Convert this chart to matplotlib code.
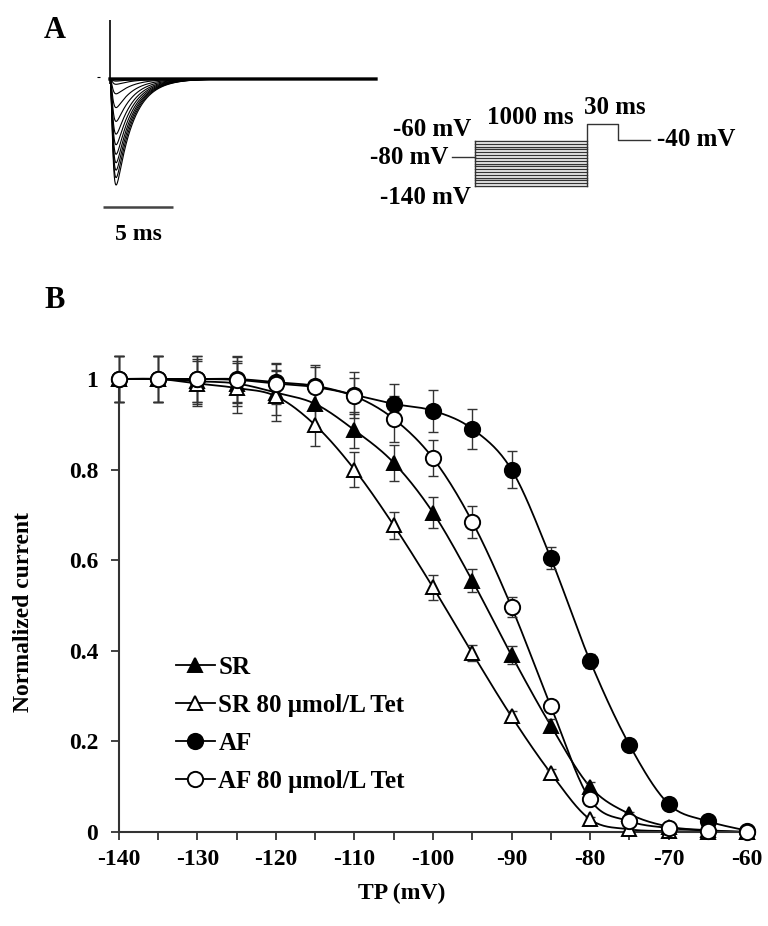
import numpy as np
import matplotlib
matplotlib.use("Agg")
import matplotlib.pyplot as plt

# panel B data: conditioning potential (mV) vs normalized current
tp = [-140, -135, -130, -125, -120, -115, -110, -105, -100, -95, -90, -85, -80, -75, -70, -65, -60]

sr = [1.0, 1.0, 0.995, 0.99, 0.97, 0.945, 0.887, 0.815, 0.705, 0.555, 0.39, 0.235, 0.10, 0.04, 0.012, 0.004, 0.0]
sr_tet = [1.0, 1.0, 0.99, 0.98, 0.962, 0.898, 0.80, 0.677, 0.54, 0.395, 0.255, 0.13, 0.028, 0.006, 0.002, 0.0, 0.0]
af = [1.0, 1.0, 1.0, 1.0, 0.993, 0.985, 0.965, 0.945, 0.93, 0.89, 0.80, 0.605, 0.378, 0.193, 0.062, 0.024, 0.003]
af_tet = [1.0, 1.0, 1.0, 0.998, 0.99, 0.982, 0.962, 0.912, 0.825, 0.685, 0.497, 0.278, 0.072, 0.024, 0.009, 0.003, 0.0]

sr_err = [0.05, 0.05, 0.05, 0.05, 0.05, 0.05, 0.04, 0.04, 0.035, 0.025, 0.02, 0.015, 0.01, 0.005, 0.005, 0, 0]
sr_tet_err = [0.05, 0.05, 0.05, 0.055, 0.055, 0.045, 0.038, 0.03, 0.028, 0.018, 0.012, 0.008, 0.005, 0, 0, 0, 0]
af_err = [0.05, 0.05, 0.05, 0.05, 0.04, 0.045, 0.05, 0.045, 0.046, 0.044, 0.04, 0.025, 0.015, 0.01, 0.005, 0, 0]
af_tet_err = [0.05, 0.05, 0.05, 0.05, 0.045, 0.045, 0.04, 0.05, 0.04, 0.035, 0.022, 0.012, 0.008, 0.005, 0, 0, 0]

labels = ["SR", "SR 80 μmol/L Tet", "AF", "AF 80 μmol/L Tet"]

# panel A: relative peak of each sodium current trace
trace_peaks = [1.0, 0.93, 0.86, 0.79, 0.71, 0.62, 0.52, 0.40, 0.27, 0.14, 0.05, 0.02]
# protocol levels (mV)
cond_levels = tp
protocol_labels = ["-60 mV", "-80 mV", "-140 mV", "1000 ms", "30 ms", "-40 mV"]

plt.rcParams["font.family"] = ["Liberation Serif", "DejaVu Serif"]
plt.rcParams["font.weight"] = "bold"


def smooth_line(x, y, n=20):
    # Excel-style smoothed line: cubic Bezier (Catmull-Rom) through the points
    x = np.asarray(x, float)
    y = np.asarray(y, float)
    p = np.column_stack([x, y])
    pts = []
    s = np.linspace(0, 1, n, endpoint=False)[:, None]
    for i in range(len(p) - 1):
        p0 = p[i - 1] if i > 0 else p[i]
        p3 = p[i + 2] if i + 2 < len(p) else p[i + 1]
        c1 = p[i] + (p[i + 1] - p0) / 6.0
        c2 = p[i + 1] - (p3 - p[i]) / 6.0
        b = ((1 - s) ** 3) * p[i] + 3 * ((1 - s) ** 2) * s * c1 + 3 * (1 - s) * s ** 2 * c2 + s ** 3 * p[i + 1]
        pts.append(b)
    pts.append(p[-1:])
    out = np.vstack(pts)
    return out[:, 0], out[:, 1]


fig = plt.figure(figsize=(7.68, 9.26), dpi=100)
W, H = 768.0, 926.0


def fig_box(x0, y0, x1, y1):
    # pixel box (top-left origin) -> figure fraction rect
    return [x0 / W, 1 - y1 / H, (x1 - x0) / W, (y1 - y0) / H]


# ---------------- panel B ----------------
ax = fig.add_axes(fig_box(119, 379, 747, 832))
series = [
    (sr, sr_err, "^", "black"),
    (sr_tet, sr_tet_err, "^", "white"),
    (af, af_err, "o", "black"),
    (af_tet, af_tet_err, "o", "white"),
]
handles = []
for (y, err, mk, fc), lab in zip(series, labels):
    sx, sy = smooth_line(tp, y)
    ax.plot(sx, sy, color="black", lw=1.3, zorder=2, clip_on=False)
    ax.errorbar(tp, y, yerr=err, fmt="none", ecolor="#333333", elinewidth=1.0,
                capsize=3.5, capthick=1.0, zorder=3, clip_on=False)
    ms = 11 if mk == "o" else 10.5
    ax.plot(tp, y, marker=mk, ls="none", mfc=fc, mec="black",
            mew=1.4, ms=ms, zorder=4, clip_on=False)
    handles.append(ax.plot([], [], marker=mk, ls="-", color="black", mfc=fc, mec="black",
                           mew=1.4, ms=ms, lw=1.3)[0])

ax.set_xlim(-140, -60)
ax.set_ylim(0, 1)
ax.set_xticks(np.arange(-140, -59, 5))
ax.set_xticklabels([str(t) if t % 10 == 0 else "" for t in range(-140, -59, 5)])
ax.set_yticks([0, 0.2, 0.4, 0.6, 0.8, 1.0])
ax.set_yticklabels(["0", "0.2", "0.4", "0.6", "0.8", "1"])
for s in ["top", "right"]:
    ax.spines[s].set_visible(False)
for s in ["left", "bottom"]:
    ax.spines[s].set_linewidth(1.5)
    ax.spines[s].set_color("#333333")
ax.tick_params(direction="out", length=6, width=1.3, color="#333333", labelsize=17, pad=6)
ax.tick_params(axis="y", pad=9)
for t in ax.get_xticklabels() + ax.get_yticklabels():
    t.set_fontweight("bold")

fig.text(402 / W, 1 - 893 / H, "TP (mV)", fontsize=17, fontweight="bold", ha="center", va="center")
fig.text(24 / W, 1 - 612 / H, "Normalized current", fontsize=17, fontweight="bold",
         ha="center", va="center", rotation=90)

leg = ax.legend(handles, labels, loc="upper left", bbox_to_anchor=(176 / W, 1 - 656 / H),
                bbox_transform=fig.transFigure, frameon=False, fontsize=18,
                handlelength=1.55, handletextpad=0.15, labelspacing=0.6,
                borderpad=0, borderaxespad=0)
for t in leg.get_texts():
    t.set_fontweight("bold")

# ---------------- panel A: current traces ----------------
axa = fig.add_axes(fig_box(95, 10, 384, 195))
t = np.linspace(0, 19, 2000)
px_per_ms = 14.0
axa.set_xlim(-15 / px_per_ms, (384 - 110) / px_per_ms)
axa.set_ylim(-(195 - 79) / 106.0, (79 - 10) / 106.0)
axa.axis("off")
shape = (1 - np.exp(-t / 0.13)) ** 3 * np.exp(-t / 1.2)
shape = shape / shape.max()
for a in trace_peaks:
    axa.plot(t, -a * shape, color="black", lw=0.8)
axa.plot(t, np.zeros_like(t), color="black", lw=2.4)
axa.vlines(0, -0.05, (79 - 20) / 106.0, color="black", lw=1.2)
axa.hlines(0.02, -0.95, -0.75, color="black", lw=0.8)
# scale bar 5 ms
axa.hlines(-(207 - 79) / 106.0, (103 - 110) / px_per_ms, (103 - 110) / px_per_ms + 5,
           color="#444444", lw=1.8, clip_on=False)
axa.text((138 - 110) / px_per_ms, -(234 - 79) / 106.0, "5 ms", ha="center", va="center",
         fontsize=17, fontweight="bold", clip_on=False)

# ---------------- protocol schematic ----------------
axp = fig.add_axes([0, 0, 1, 1], zorder=-1)
axp.set_xlim(0, W)
axp.set_ylim(H, 0)
axp.axis("off")
y_top, y_bot = 141.0, 186.0
lv = np.asarray(cond_levels, float)
ys = y_bot - (lv - lv.min()) / (lv.max() - lv.min()) * (y_bot - y_top)
for y in ys:
    axp.plot([475, 587], [y, y], color="#333333", lw=1.0)
axp.plot([452, 475], [157, 157], color="#333333", lw=1.0)
axp.plot([475, 475], [y_top, y_bot], color="#333333", lw=1.0)
axp.plot([587, 587, 618, 618, 650], [y_bot, 124, 124, 140, 140], color="#333333", lw=1.0)

txt = dict(fontsize=18, fontweight="bold", va="center")
axp.text(471, 130, protocol_labels[0], ha="right", **txt)
axp.text(448, 157, protocol_labels[1], ha="right", **txt)
axp.text(471, 197, protocol_labels[2], ha="right", **txt)
axp.text(530, 118, protocol_labels[3], ha="center", **txt)
axp.text(615, 107, protocol_labels[4], ha="center", **txt)
axp.text(657, 140, protocol_labels[5], ha="left", **txt)

fig.text(55 / W, 1 - 30 / H, "A", fontsize=22, fontweight="bold", ha="center", va="center")
fig.text(55 / W, 1 - 300 / H, "B", fontsize=22, fontweight="bold", ha="center", va="center")

fig.savefig("out.png", dpi=100)
